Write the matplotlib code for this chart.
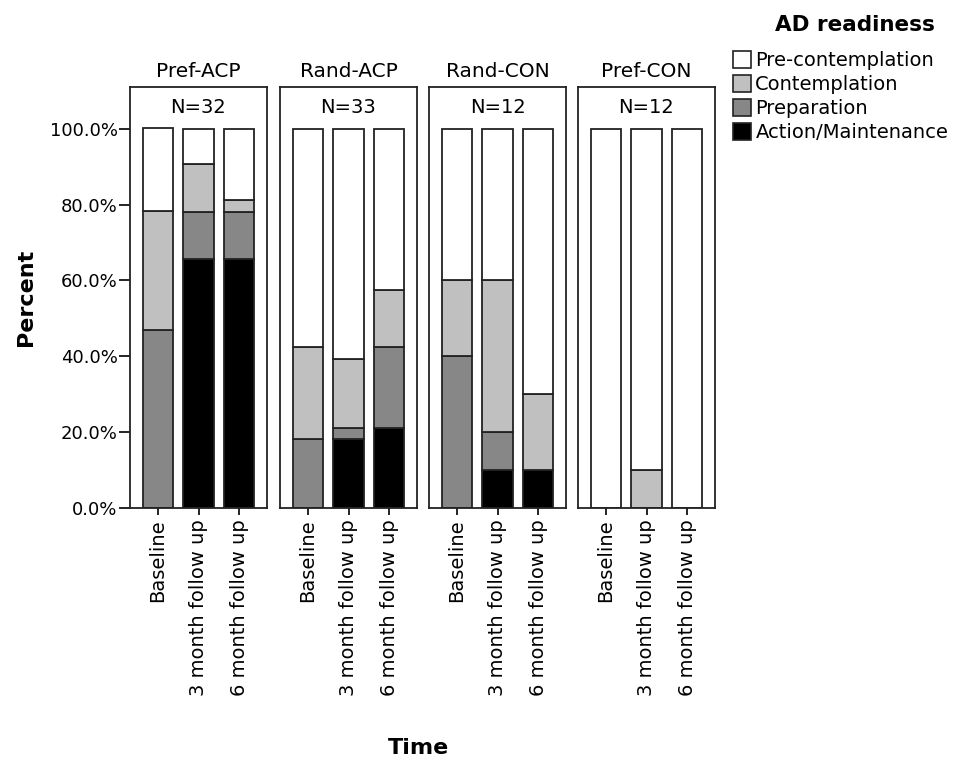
import matplotlib.pyplot as plt
from matplotlib.patches import Patch
from matplotlib.ticker import FuncFormatter

groups = ['Pref-ACP', 'Rand-ACP', 'Rand-CON', 'Pref-CON']
group_n = ['N=32', 'N=33', 'N=12', 'N=12']
times = ['Baseline', '3 month follow up', '6 month follow up']
stages = ['Pre-contemplation', 'Contemplation', 'Preparation', 'Action/Maintenance']

# percent per group, per time point
action = [[0, 65.6, 65.6], [0, 18.2, 21.2], [0, 10, 10], [0, 0, 0]]
preparation = [[46.9, 12.5, 12.5], [18.2, 3.0, 21.2], [40, 10, 0], [0, 0, 0]]
contemplation = [[31.3, 12.5, 3.1], [24.2, 18.2, 15.2], [20, 40, 20], [0, 10, 0]]
precontemplation = [[21.9, 9.4, 18.8], [57.6, 60.6, 42.4], [40, 40, 70], [100, 90, 100]]

colors = {'Pre-contemplation': 'white', 'Contemplation': '#c0c0c0',
          'Preparation': '#878787', 'Action/Maintenance': 'black'}

plt.rcParams['font.family'] = ['DejaVu Sans']
W, H = 957, 761
fig = plt.figure(figsize=(W / 100, H / 100), dpi=100)

lefts = [130, 280, 429, 578]
pw = 137
bottom, top = 508, 87
x = [0, 1, 2]

for i, g in enumerate(groups):
    ax = fig.add_axes([lefts[i] / W, (H - bottom) / H, pw / W, (bottom - top) / H])
    base = [0, 0, 0]
    for name, vals in [('Action/Maintenance', action[i]), ('Preparation', preparation[i]),
                       ('Contemplation', contemplation[i]), ('Pre-contemplation', precontemplation[i])]:
        ax.bar(x, vals, bottom=base, width=0.75, color=colors[name],
               edgecolor='#222222', linewidth=1.3, zorder=2)
        base = [b + v for b, v in zip(base, vals)]
    ax.set_xlim(-0.69, 2.69)
    ax.set_ylim(0, 111)
    ax.set_xticks(x)
    ax.set_xticklabels(times, rotation=90, fontsize=14)
    ax.tick_params(axis='x', length=5, width=1.2, pad=3)
    for s in ax.spines.values():
        s.set_linewidth(1.3)
        s.set_color('#222222')
    ax.text(1, 105.5, group_n[i], ha='center', va='center', fontsize=14)
    ax.set_title(g, fontsize=14.5, pad=7)
    if i == 0:
        ax.set_yticks([0, 20, 40, 60, 80, 100])
        ax.yaxis.set_major_formatter(FuncFormatter(lambda v, p: '%.1f%%' % v))
        ax.tick_params(axis='y', length=8, width=1.2, labelsize=13, pad=1)
        ax.set_ylabel('Percent', fontsize=16, fontweight='bold', labelpad=10)
    else:
        ax.set_yticks([])

fig.text(418 / W, 1 - 748 / H, 'Time', ha='center', va='center', fontsize=16, fontweight='bold')

# legend title drawn separately to get the gap under it
fig.text(855 / W, 1 - 25 / H, 'AD readiness', ha='center', va='center',
         fontsize=15.5, fontweight='bold')
handles = [Patch(facecolor=colors[s], edgecolor='#222222', linewidth=1.2, label=s) for s in stages]
leg = fig.legend(handles=handles, loc='upper left', bbox_to_anchor=(733 / W, 1 - 51 / H),
                 frameon=False, fontsize=14,
                 handlelength=0.95, handleheight=0.95, handletextpad=0.2,
                 labelspacing=0.25, borderaxespad=0, borderpad=0)

fig.savefig('out.png', dpi=100)
